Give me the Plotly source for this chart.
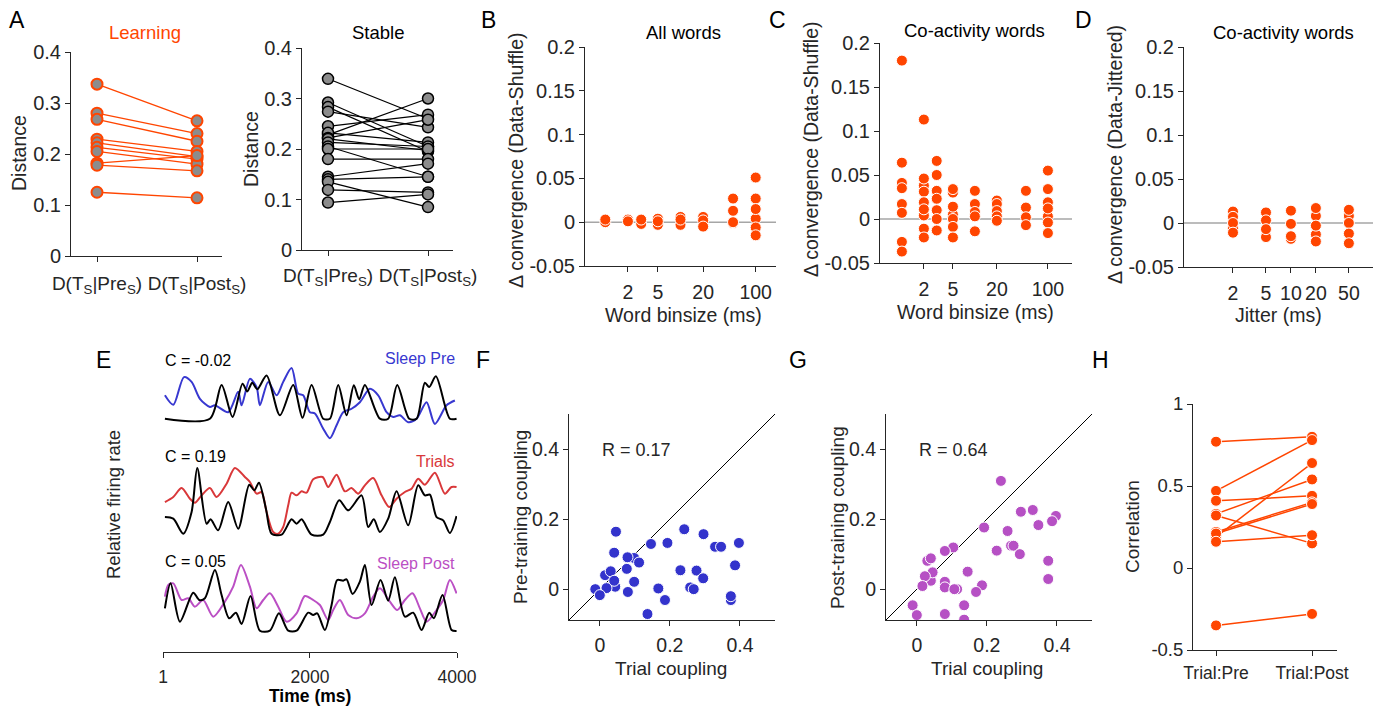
import plotly.graph_objects as go

# ---------------- DATA ----------------
# Panel A (Distance, Learning / Stable)
A_cats = ["D(T<sub>S</sub>|Pre<sub>S</sub>)", "D(T<sub>S</sub>|Post<sub>S</sub>)"]
learn_pre = [0.337, 0.280, 0.268, 0.229, 0.222, 0.213, 0.205, 0.182, 0.178, 0.125]
learn_post = [0.265, 0.240, 0.225, 0.205, 0.195, 0.190, 0.180, 0.197, 0.167, 0.114]
stable_pre = [0.339, 0.292, 0.283, 0.274, 0.245, 0.228, 0.232, 0.222, 0.220, 0.213,
              0.205, 0.200, 0.180, 0.145, 0.140, 0.135, 0.119, 0.094]
stable_post = [0.260, 0.205, 0.195, 0.243, 0.268, 0.300, 0.213, 0.258, 0.197, 0.205,
               0.145, 0.200, 0.180, 0.171, 0.145, 0.085, 0.114, 0.110]

# Panel B (All words, data-shuffle) per word binsize (ms)
B_bins = [1, 2, 3, 5, 10, 20, 50, 100]
B_vals = [[0.000, 0.003], [0.003, 0.001], [-0.002, 0.003], [0.004, -0.003, 0.001],
          [0.006, -0.003, 0.003], [0.006, 0.002, -0.005], [-0.001, 0.000, 0.013, 0.027],
          [0.004, 0.051, 0.027, 0.015, -0.006, -0.015]]
# Panel C (Co-activity words, data-shuffle)
C_bins = [1, 2, 3, 5, 10, 20, 50, 100]
C_vals = [[0.041, 0.180, 0.064, 0.035, 0.017, 0.007, -0.026, -0.037],
          [0.038, 0.004, 0.113, 0.046, 0.031, 0.019, 0.011, -0.011, -0.021],
          [0.066, 0.050, 0.032, 0.023, 0.010, 0.000, -0.013],
          [0.030, 0.005, 0.034, 0.014, 0.000, -0.009, -0.021],
          [0.032, 0.017, 0.008, 0.003, -0.014],
          [0.021, 0.017, 0.009, 0.003, -0.002],
          [0.032, 0.013, 0.002, -0.007],
          [0.019, 0.003, 0.055, 0.034, 0.012, -0.004, -0.016]]
# Panel D (Co-activity words, data-jittered) per jitter (ms)
D_jit = [2, 5, 10, 20, 50]
D_vals = [[0.013, -0.006, 0.007, 0.000, -0.011],
          [-0.016, 0.012, 0.003, -0.007],
          [-0.018, 0.014, -0.001, -0.015],
          [0.008, -0.013, 0.017, -0.003, -0.021],
          [0.008, 0.015, 0.000, -0.012, -0.023]]

# Panel E traces (time in ms, relative firing rate, arbitrary units)
E1_black_t = [27, 639, 798, 947, 1083, 1147, 1215, 1283, 1410, 1591, 1772, 1899, 2022, 2180, 2271,
              2384, 2498, 2597, 2670, 2747, 2951, 3064, 3187, 3350, 3450, 3563, 3622, 3713, 3903, 3994]
E1_black_r = [0, 0, 0.78, 0.04, 0.81, 0.63, 0.83, 0.68, 1.0, 0.08, 0.78, 0.02, 0.78, 0, 0,
              0.78, 0.08, 0.77, 0.45, 0.78, 0, 0, 0.78, 0, 0, 0.83, 0.73, 0.98, 0, 0]
E1_pre_t = [27, 141, 286, 390, 503, 639, 707, 888, 1024, 1070, 1183, 1274, 1319, 1432, 1546, 1636,
            1750, 1840, 1908, 1999, 2067, 2180, 2271, 2362, 2452, 2566, 2679, 2815, 2928, 3042,
            3132, 3223, 3336, 3450, 3586, 3699, 3858, 3971]
E1_pre_r = [0.54, 0.32, 0.96, 0.85, 0.46, 0.27, 0.31, 0.15, 0.62, 0.31, 0.92, 0.73, 0.31, 0.85, 0.54, 0.85,
            1.17, 0.58, 0.54, 0.15, 0.12, -0.23, -0.45, -0.15, 0.15, 0.23, 0.38, 0.69, 0.54, 0.15,
            0.04, 0.08, -0.08, 0.0, 0.38, -0.12, 0.31, 0.42]
E2_black_t = [27, 141, 277, 390, 467, 594, 648, 752, 888, 1024, 1174, 1242, 1306, 1401, 1478, 1614,
              1750, 1818, 1886, 2022, 2180, 2271, 2398, 2520, 2702, 2792, 2869, 2951, 3064, 3178,
              3336, 3472, 3563, 3631, 3722, 3812, 3903, 3994]
E2_black_r = [0.265, 0.24, 0.015, 0.34, 1.0, 0.165, 0.23, 0.065, 0.49, 0.09, 0.75, 0.665, 0.78, 0.39, 0.015, 0,
              0.23, 0.165, 0.23, 0, 0, 0.19, 0.515, 0.365, 0.59, 0.115, 0.23, 0.04, 0.24, 0.65,
              0.14, 0.74, 0.59, 0.6, 0.265, 0.215, 0.025, 0.28]
E2_trial_t = [27, 141, 254, 367, 435, 526, 639, 730, 866, 979, 1115, 1183, 1274, 1342, 1410, 1500,
              1568, 1636, 1704, 1750, 1818, 1886, 1954, 2044, 2171, 2248, 2362, 2475, 2566, 2656,
              2747, 2860, 2974, 3078, 3178, 3291, 3382, 3472, 3563, 3699, 3835, 3926, 3994]
E2_trial_r = [0.49, 0.565, 0.7, 0.54, 0.48, 0.59, 0.7, 0.565, 0.765, 1.0, 0.865, 0.79, 0.615, 0.64, 0.34, 0.04,
              0.015, 0.115, 0.44, 0.63, 0.59, 0.65, 0.63, 0.83, 0.865, 0.715, 0.9, 0.65, 0.7, 0.615,
              0.74, 0.85, 0.59, 0.415, 0.54, 0.64, 0.69, 0.84, 0.75, 0.93, 0.615, 0.715, 0.715]
E3_black_t = [27, 104, 231, 412, 494, 571, 707, 798, 902, 993, 1070, 1192, 1319, 1455, 1578, 1704,
              1818, 1976, 2044, 2099, 2203, 2294, 2371, 2452, 2498, 2579, 2679, 2747, 2838, 2960,
              3064, 3155, 3291, 3404, 3518, 3622, 3685, 3803, 3926, 3994]
E3_black_r = [0.34, 0.715, 0.14, 0.575, 0.465, 0.49, 0.915, 0.54, 0.19, 0.275, 0.105, 0.525, 0.005, 0.005, 0.265, 0.005,
              0.005, 0.275, 0.24, 0.265, 0.015, 0.39, 0.765, 0.755, 0.775, 0.555, 0.74, 0.99, 0.39, 0.765,
              0.455, 0.805, 0.215, 0.275, 0.015, 0.275, 0.19, 0.54, 0.015, 0.0]
E3_post_t = [27, 73, 141, 254, 345, 435, 548, 684, 843, 956, 1061, 1183, 1274, 1364, 1455, 1568,
             1682, 1818, 1931, 2044, 2135, 2248, 2316, 2407, 2520, 2634, 2747, 2860, 2951, 3087,
             3187, 3291, 3395, 3495, 3586, 3722, 3812, 3903, 3994]
E3_post_r = [0.515, 0.69, 0.715, 0.465, 0.49, 0.365, 0.465, 0.215, 0.44, 0.665, 0.99, 0.665, 0.34, 0.465, 0.565, 0.365,
             0.14, 0.265, 0.525, 0.465, 0.39, 0.165, 0.315, 0.465, 0.24, 0.19, 0.265, 0.515, 0.64, 0.44,
             0.315, 0.465, 0.565, 0.34, 0.14, 0.315, 0.465, 0.765, 0.565]
E_labels = ["C = -0.02", "C = 0.19", "C = 0.05"]
E_names = ["Sleep Pre", "Trials", "Sleep Post"]

# Panel F (Trial vs Pre-training coupling)
F_x = [0.098, 0.044, 0.258, 0.329, 0.374, 0.046, 0.041, 0.079, 0.112, 0.015, 0.031, 0.077, 0.041,
       0.019, -0.013, 0.000, 0.080, 0.098, 0.136, 0.146, 0.167, 0.186, 0.193, 0.241, 0.230, 0.276,
       0.295, 0.296, 0.268, 0.346, 0.397, 0.386, 0.374]
F_y = [0.089, 0.007, 0.005, 0.121, -0.031, 0.164, 0.104, 0.091, 0.076, 0.040, 0.051, 0.058, 0.024,
       0.003, 0.000, -0.017, -0.008, 0.021, -0.071, 0.129, 0.002, -0.031, 0.132, 0.171, 0.054, 0.053,
       0.031, 0.157, 0.000, 0.121, 0.132, 0.068, -0.020]
F_R = "R = 0.17"
# Panel G (Trial vs Post-training coupling)
G_x = [0.397, 0.269, 0.030, 0.040, 0.080, 0.115, 0.240, 0.297, 0.331, 0.386, 0.347, 0.192, 0.259,
       0.276, 0.228, 0.294, 0.375, 0.375, 0.104, 0.080, 0.040, 0.045, 0.023, 0.016, 0.080, 0.107,
       0.145, 0.186, 0.169, -0.012, 0.000, 0.080, 0.135, 0.135]
G_y = [0.209, 0.124, 0.081, 0.024, 0.021, 0.000, 0.309, 0.221, 0.226, 0.194, 0.183, 0.176, 0.166,
       0.124, 0.110, 0.100, 0.081, 0.029, 0.119, 0.109, 0.088, 0.048, 0.037, 0.009, 0.005, 0.000,
       0.050, 0.011, -0.008, -0.046, -0.074, -0.071, -0.046, -0.087]
G_R = "R = 0.64"
# Panel H (Correlation)
H_cats = ["Trial:Pre", "Trial:Post"]
H_pre = [0.77, 0.47, 0.41, 0.33, 0.32, 0.19, 0.22, 0.21, 0.16, -0.35]
H_post = [0.80, 0.78, 0.44, 0.54, 0.15, 0.64, 0.40, 0.39, 0.20, -0.28]

# ---------------- STYLE ----------------
SW, SH = 1384, 707          # browser window
OFF = 8                     # default page body margin
W, H = SW - OFF, SH - OFF
FONT = "Arial, Liberation Sans, Helvetica, sans-serif"
AX = "#262626"
ORANGE = "#FF4500"
GRAY = "#8c8c8c"
BLUE = "#3333CC"
PURPLE = "#B650C4"
TR_BLUE = "#3838D0"
TR_RED = "#D9383A"
TR_PURPLE = "#BB4FC4"


def px(x):
    return (x - OFF) / W


def py(y):
    return 1 - (y - OFF) / H


def dx(l, r):
    return [px(l), px(r)]


def dy(t, b):
    return [py(b), py(t)]


def axis(dom, rng, size, **kw):
    d = dict(domain=dom, range=rng, showline=True, linecolor=AX, linewidth=1,
             ticks="outside", ticklen=5, tickcolor=AX, showgrid=False, zeroline=False,
             automargin=False,
             tickfont=dict(family=FONT, size=size, color=AX), fixedrange=True)
    d.update(kw)
    return d


fig = go.Figure()
layout = {}
annots = []
shapes = []


def ann(text, x, y, size, color=AX, xanchor="center", yanchor="middle", angle=0, bold=False):
    if bold:
        text = "<b>" + text + "</b>"
    annots.append(dict(text=text, x=px(x), y=py(y), xref="paper", yref="paper",
                       showarrow=False, font=dict(family=FONT, size=size, color=color),
                       xanchor=xanchor, yanchor=yanchor, textangle=angle))


def paired(pre, post, xa, ya, lcolor, mfill, mline, mlw, msize, lw):
    xs, ys = [], []
    for a, b in zip(pre, post):
        xs += [1, 2, None]
        ys += [a, b, None]
    fig.add_trace(go.Scatter(x=xs, y=ys, mode="lines", line=dict(color=lcolor, width=lw),
                             xaxis=xa, yaxis=ya, hoverinfo="skip"))
    fig.add_trace(go.Scatter(x=[1] * len(pre) + [2] * len(post), y=list(pre) + list(post),
                             mode="markers", xaxis=xa, yaxis=ya,
                             marker=dict(size=msize, color=mfill, line=dict(color=mline, width=mlw))))


def strip(bins, vals, xa, ya):
    xs, ys = [], []
    for b, vs in zip(bins, vals):
        xs += [b] * len(vs)
        ys += vs
    fig.add_trace(go.Scatter(x=xs, y=ys, mode="markers", xaxis=xa, yaxis=ya,
                             marker=dict(size=11, color=ORANGE, line=dict(color="white", width=1))))


# ---- A1 Learning ----
paired(learn_pre, learn_post, "x", "y", ORANGE, GRAY, ORANGE, 2, 11, 1.3)
layout["xaxis"] = axis(dx(71, 222), [0.74, 2.25], 19, tickvals=[1, 2], ticktext=A_cats,
                       anchor="y", ticklabelstandoff=5)
layout["yaxis"] = axis(dy(52, 256), [0, 0.4], 20, tickvals=[0, 0.1, 0.2, 0.3, 0.4],
                       ticktext=["0", "0.1", "0.2", "0.3", "0.4"], anchor="x")
# ---- A2 Stable ----
paired(stable_pre, stable_post, "x2", "y2", "black", GRAY, "black", 1.5, 11, 1.2)
layout["xaxis2"] = axis(dx(302, 453), [0.74, 2.25], 19, tickvals=[1, 2], ticktext=A_cats,
                        anchor="y2", ticklabelstandoff=3)
layout["yaxis2"] = axis(dy(48, 250), [0, 0.4], 20, tickvals=[0, 0.1, 0.2, 0.3, 0.4],
                        ticktext=["0", "0.1", "0.2", "0.3", "0.4"], anchor="x2")

# ---- B, C, D ----
yt = [-0.05, 0, 0.05, 0.1, 0.15, 0.2]
ytt = ["-0.05", "0", "0.05", "0.1", "0.15", "0.2"]
for i, (bins, vals, xd, yd, xr, xt) in enumerate([
        (B_bins, B_vals, (585, 776), (47, 266), [-0.27, 2.27], [2, 5, 20, 100]),
        (C_bins, C_vals, (880, 1072), (43, 263), [-0.30, 2.33], [2, 5, 20, 100]),
        (D_jit, D_vals, (1184, 1373), (47, 267), [-0.29, 1.99], [2, 5, 10, 20, 50])]):
    n = i + 3
    xa, ya = "x%d" % n, "y%d" % n
    shapes.append(dict(type="line", xref=xa + " domain", yref=ya, x0=0, x1=1, y0=0, y1=0,
                       line=dict(color="#a6a6a6", width=1.5), layer="below"))
    strip(bins, vals, xa, ya)
    layout["xaxis%d" % n] = axis(dx(*xd), xr, 19.5, type="log", tickvals=xt,
                                 ticktext=[str(v) for v in xt], anchor=ya, ticklabelstandoff=4)
    layout["yaxis%d" % n] = axis(dy(*yd), [-0.05, 0.2], 20, tickvals=yt, ticktext=ytt, anchor=xa)

# ---- E traces ----
E_off = [233.3, 117.3, 21.0]
E_scale = [43.3, 66.7, 66.7]
E_sets = [((E1_pre_t, E1_pre_r), TR_BLUE, (E1_black_t, E1_black_r)),
          ((E2_trial_t, E2_trial_r), TR_RED, (E2_black_t, E2_black_r)),
          ((E3_post_t, E3_post_r), TR_PURPLE, (E3_black_t, E3_black_r))]
for k, ((ct, cr), col, (bt, br)) in enumerate(E_sets):
    for tt, rr, c in [(ct, cr, col), (bt, br, "black")]:
        fig.add_trace(go.Scatter(x=tt, y=[E_off[k] + E_scale[k] * v for v in rr], mode="lines",
                                 line=dict(color=c, width=2, shape="spline", smoothing=0.8),
                                 xaxis="x6", yaxis="y6", hoverinfo="skip"))
layout["xaxis6"] = axis(dx(163, 457), [1, 4000], 17.5, tickvals=[1, 2000, 4000],
                        ticktext=["1", "2000", "4000"], anchor="y6", ticklabelstandoff=4)
layout["yaxis6"] = dict(domain=dy(362, 652), range=[0, 290], visible=False, fixedrange=True,
                        anchor="x6", automargin=False)

# ---- F, G ----
lo, hi = -0.088, 0.5
for n, xs, ys, col, xd, R, rx in [(7, F_x, F_y, BLUE, (569, 775), F_R, 600),
                                  (8, G_x, G_y, PURPLE, (886, 1092), G_R, 917)]:
    xa, ya = "x%d" % n, "y%d" % n
    fig.add_trace(go.Scatter(x=[lo, hi], y=[lo, hi], mode="lines", line=dict(color="black", width=1),
                             xaxis=xa, yaxis=ya, hoverinfo="skip"))
    fig.add_trace(go.Scatter(x=xs, y=ys, mode="markers", xaxis=xa, yaxis=ya,
                             marker=dict(size=11, color=col, line=dict(color="white", width=1))))
    layout["xaxis%d" % n] = axis(dx(*xd), [lo, hi], 19.5, tickvals=[0, 0.2, 0.4],
                                 ticktext=["0", "0.2", "0.4"], anchor=ya, ticklabelstandoff=3)
    layout["yaxis%d" % n] = axis(dy(414, 620), [lo, hi], 19.5, tickvals=[0, 0.2, 0.4],
                                 ticktext=["0", "0.2", "0.4"], anchor=xa)
    ann(R, rx, 450, 18, xanchor="left")

# ---- H ----
paired(H_pre, H_post, "x9", "y9", ORANGE, ORANGE, "white", 1, 11, 1.5)
layout["xaxis9"] = axis(dx(1193, 1337), [0.76, 2.26], 17.5, tickvals=[1, 2], ticktext=H_cats,
                        anchor="y9", ticklabelstandoff=2)
layout["yaxis9"] = axis(dy(404, 650), [-0.5, 1], 18.5, tickvals=[-0.5, 0, 0.5, 1],
                        ticktext=["-0.5", "0", "0.5", "1"], anchor="x9")

# ---- Text ----
for L, x, y in [("A", 17, 20), ("B", 488, 20), ("C", 777, 20), ("D", 1083, 20),
                ("E", 103, 360), ("F", 483, 360), ("G", 798, 360), ("H", 1100, 360)]:
    ann(L, x, y, 23, color="black")
ann("Learning", 145, 32, 18.5, color=ORANGE)
ann("Stable", 378, 33, 18.5, color="black")
ann("All words", 683, 33, 18.5, color="black")
ann("Co-activity words", 974, 31, 18.5, color="black")
ann("Co-activity words", 1283, 32, 18.5, color="black")
ann("Distance", 19, 153, 19.5, angle=-90)
ann("Distance", 251, 149, 19.5, angle=-90)
ann("\u0394 convergence (Data-Shuffle)", 516, 161, 19.5, angle=-90)
ann("\u0394 convergence (Data-Shuffle)", 811, 150, 19.5, angle=-90)
ann("\u0394 convergence (Data-Jittered)", 1115, 155, 19.5, angle=-90)
ann("Word binsize (ms)", 683, 315, 19.5)
ann("Word binsize (ms)", 975, 312, 19.5)
ann("Jitter (ms)", 1278, 315, 19.5)
ann("Relative firing rate", 113, 505, 18.5, angle=-90)
ann("Time (ms)", 310, 696, 17.5, color="black", bold=True)
for k, (lab, nm, col, yl, yn) in enumerate(zip(E_labels, E_names, [TR_BLUE, TR_RED, TR_PURPLE],
                                                [360, 457, 561], [358, 462, 563])):
    ann(lab, 163, yl, 16, color="black", xanchor="left")
    ann(nm, 457, yn, 16, color=col, xanchor="right")
ann("Pre-training coupling", 520, 517, 19, angle=-90)
ann("Post-training coupling", 837, 518, 19, angle=-90)
ann("Trial coupling", 671, 668, 19)
ann("Trial coupling", 987, 668, 19)
ann("Correlation", 1132, 527, 19, angle=-90)

fig.update_layout(width=W, height=H, margin=dict(l=0, r=0, t=0, b=0, pad=0, autoexpand=False),
                  showlegend=False,
                  plot_bgcolor="white", paper_bgcolor="white", annotations=annots, shapes=shapes,
                  **layout)
fig.write_html("out.html")
